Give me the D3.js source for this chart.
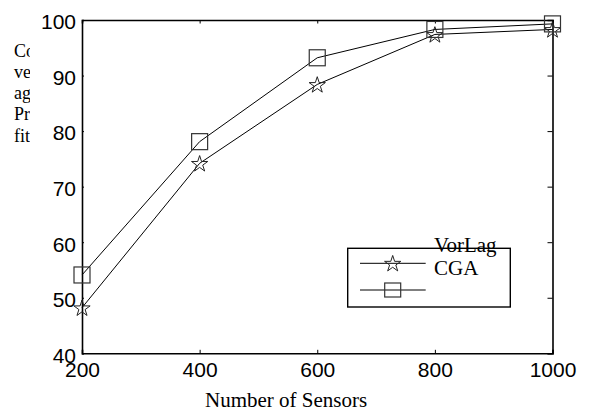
<!DOCTYPE html>
<html>
<head>
<meta charset="utf-8">
<script src="https://cdn.jsdelivr.net/npm/d3@7"></script>
<style>
  body { margin: 0; background: #fff; }
  svg { display: block; }
</style>
</head>
<body>
<div id="chart"></div>
<script>
// data
const sensors = [200, 400, 600, 800, 1000];
const starSeries = [48.2, 74.2, 88.4, 97.4, 98.3];
const squareSeries = [54.1, 78.1, 93.2, 98.3, 99.3];
const yTicks = [40, 50, 60, 70, 80, 90, 100];
const legendLabels = ["VorLag", "CGA"];
const sideText = ["Co", "ve", "ag", "Pr", "fit"];

const W = 591, H = 415;
const M = { TOP: 20, LEFT: 82, RIGHT: 38.5, BOTTOM: 61.7 };

const svg = d3.select("#chart").append("svg")
  .attr("width", W)
  .attr("height", H);

// bit of page text clipped behind the figure
svg.append("clipPath").attr("id", "side")
  .append("rect").attr("x", 0).attr("y", 0).attr("width", 30).attr("height", H);

svg.append("g")
  .attr("clip-path", "url(#side)")
  .selectAll("text")
  .data(sideText)
  .join("text")
    .attr("x", 14)
    .attr("y", (d, i) => 56.5 + i * 21.3)
    .style("font-family", "'Liberation Serif', 'Times New Roman', serif")
    .style("font-size", "18px")
    .text(d => d);

const x = d3.scaleLinear().domain([200, 1000]).range([M.LEFT, W - M.RIGHT]);
const y = d3.scaleLinear().domain([40, 100]).range([H - M.BOTTOM, M.TOP]);

const sans = "'Liberation Sans', Arial, sans-serif";
const serif = "'Liberation Serif', 'Times New Roman', serif";

// axes, ticks pointing inward
const gx = svg.append("g")
  .attr("transform", `translate(0,${y(40)})`)
  .call(d3.axisBottom(x).tickValues(sensors).tickSize(-3.5).tickPadding(10).tickFormat(d3.format("d")));
const gxTop = svg.append("g")
  .attr("transform", `translate(0,${y(100)})`)
  .call(d3.axisTop(x).tickValues(sensors).tickSize(-3.5).tickFormat(""));
const gy = svg.append("g")
  .attr("transform", `translate(${x(200)},0)`)
  .call(d3.axisLeft(y).tickValues(yTicks).tickSize(-2).tickPadding(6));
const gyRight = svg.append("g")
  .attr("transform", `translate(${x(1000)},0)`)
  .call(d3.axisRight(y).tickValues(yTicks).tickSize(-5).tickFormat(""));

[gx, gxTop, gy, gyRight].forEach(g => {
  g.select(".domain").attr("stroke", "#000").attr("stroke-width", 1.6);
  g.selectAll(".tick line").attr("stroke", "#000").attr("stroke-width", 1);
  g.selectAll(".tick text")
    .attr("fill", "#000")
    .style("font-family", sans)
    .style("font-size", "21px");
});
gy.selectAll(".tick text").attr("dy", "0.42em");
gx.selectAll(".tick text").attr("dy", "0.65em");

// x title
svg.append("text")
  .attr("x", 205)
  .attr("y", 407)
  .style("font-family", serif)
  .style("font-size", "21px")
  .text("Number of Sensors");

const line = d3.line()
  .x((d, i) => x(sensors[i]))
  .y(d => y(d));

const star = d3.symbol(d3.symbolStar, 82);
const squareSide = 16;

// series with stars
svg.append("path")
  .datum(starSeries)
  .attr("d", line)
  .attr("fill", "none")
  .attr("stroke", "#000")
  .attr("stroke-width", 1);

// series with squares
svg.append("path")
  .datum(squareSeries)
  .attr("d", line)
  .attr("fill", "none")
  .attr("stroke", "#000")
  .attr("stroke-width", 1);

svg.append("g")
  .selectAll("path")
  .data(starSeries)
  .join("path")
    .attr("d", star)
    .attr("transform", (d, i) => `translate(${x(sensors[i])},${y(d) + 0.8})`)
    .attr("fill", "none")
    .attr("stroke", "#222")
    .attr("stroke-width", 1);

svg.append("g")
  .selectAll("rect")
  .data(squareSeries)
  .join("rect")
    .attr("x", (d, i) => x(sensors[i]) - squareSide / 2)
    .attr("y", d => y(d) - squareSide / 2)
    .attr("width", squareSide)
    .attr("height", squareSide)
    .attr("fill", "none")
    .attr("stroke", "#333")
    .attr("stroke-width", 1.2);

// legend
const lg = svg.append("g");
lg.append("rect")
  .attr("x", 347.7).attr("y", 248.3)
  .attr("width", 162.6).attr("height", 58.7)
  .attr("fill", "#fff")
  .attr("stroke", "#000")
  .attr("stroke-width", 1.4);

lg.append("line")
  .attr("x1", 360).attr("x2", 425.7).attr("y1", 263.3).attr("y2", 263.3)
  .attr("stroke", "#000").attr("stroke-width", 1);
lg.append("path")
  .attr("d", star)
  .attr("transform", "translate(392.7,264)")
  .attr("fill", "none").attr("stroke", "#222").attr("stroke-width", 1);

lg.append("line")
  .attr("x1", 360).attr("x2", 425.7).attr("y1", 290).attr("y2", 290)
  .attr("stroke", "#000").attr("stroke-width", 1);
lg.append("rect")
  .attr("x", 392.7 - 8).attr("y", 290 - 7)
  .attr("width", 16).attr("height", 14)
  .attr("fill", "none").attr("stroke", "#333").attr("stroke-width", 1.2);

lg.selectAll("text")
  .data(legendLabels)
  .join("text")
    .attr("x", 434)
    .attr("y", (d, i) => 252 + i * 23)
    .style("font-family", serif)
    .style("font-size", "21px")
    .text(d => d);
</script>
</body>
</html>
